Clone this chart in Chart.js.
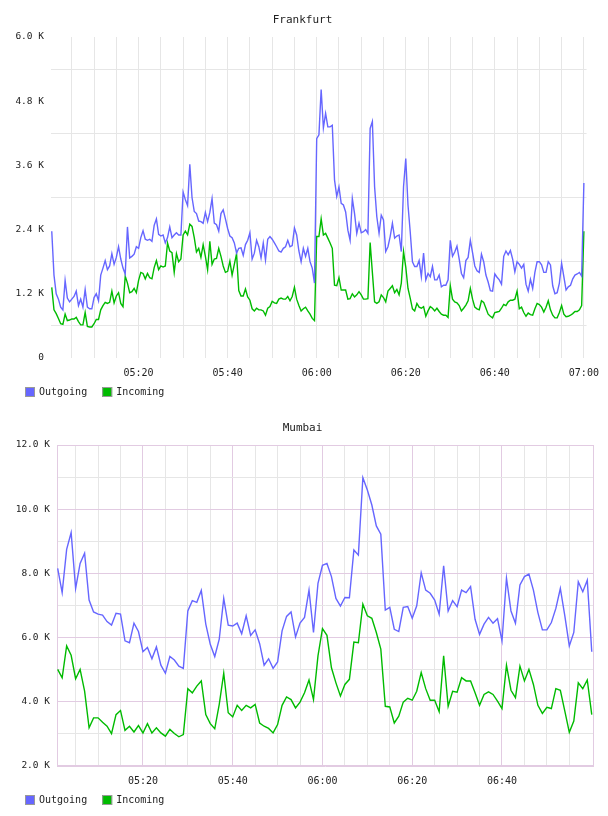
<!DOCTYPE html>
<html>
<head>
<meta charset="utf-8">
<script src="https://cdn.jsdelivr.net/npm/chart.js@4.4.1/dist/chart.umd.min.js"></script>
<style>
  html, body { margin: 0; padding: 0; background: #fff; }
  .wrap { position: relative; width: 608px; height: 816px; }
  canvas { position: absolute; left: 0; }
</style>
</head>
<body>
<div class="wrap">
  <canvas id="frankfurtChart" width="608" height="408" style="top:0"></canvas>
  <canvas id="mumbaiChart" width="608" height="408" style="top:408px"></canvas>
</div>
<script>
// time axis: minutes after 05:00
const xTickLabels = ['05:20', '05:40', '06:00', '06:20', '06:40', '07:00'];

// Frankfurt, one sample every 30 s starting 05:00:30 (values in K)
const frankfurtStart = 0.5;
const frankfurtStep = 0.5;
const frankfurtYLabels = ['0', '1.2 K', '2.4 K', '3.6 K', '4.8 K', '6.0 K'];
const frankfurtOut = [
  2.37, 1.55, 1.2, 1.1, 0.95, 0.9, 1.45, 1.12, 1.05, 1.1,
  1.15, 1.25, 0.98, 1.1, 0.95, 1.28, 0.95, 0.92, 0.92, 1.13,
  1.2, 1.07, 1.55, 1.68, 1.82, 1.65, 1.72, 1.95, 1.75, 1.88,
  2.08, 1.85, 1.68, 1.57, 2.45, 1.87, 1.9, 1.94, 2.08, 2.05,
  2.25, 2.38, 2.22, 2.2, 2.22, 2.18, 2.48, 2.6, 2.31, 2.28,
  2.3, 2.15, 2.25, 2.45, 2.25, 2.3, 2.34, 2.3, 2.3, 3.1,
  2.96, 2.85, 3.62, 3.0, 2.74, 2.7, 2.56, 2.55, 2.52, 2.72,
  2.55, 2.72, 2.98, 2.52, 2.49, 2.37, 2.7, 2.77, 2.6, 2.42,
  2.28, 2.25, 2.15, 1.96, 2.05, 2.06, 1.92, 2.12, 2.2, 2.34,
  1.85, 1.96, 2.2, 2.08, 1.87, 2.15, 1.83, 2.22, 2.27, 2.22,
  2.15, 2.08, 2.0, 1.98, 2.05, 2.08, 2.2, 2.08, 2.1, 2.43,
  2.3, 2.0, 1.8, 2.05, 1.9, 2.05, 1.8, 1.68, 1.4, 4.1,
  4.17, 5.02, 4.3, 4.57, 4.32, 4.32, 4.35, 3.33, 3.02, 3.2,
  2.89, 2.86, 2.73, 2.39, 2.2, 2.98, 2.7, 2.33, 2.52, 2.34,
  2.36, 2.4, 2.33, 4.29, 4.42, 3.2, 2.64, 2.33, 2.67, 2.58,
  1.99, 2.08, 2.27, 2.52, 2.24, 2.28, 2.3, 1.99, 3.2, 3.73,
  2.86, 2.36, 1.8, 1.71, 1.71, 1.82, 1.52, 1.96, 1.46, 1.58,
  1.52, 1.71, 1.46, 1.46, 1.55, 1.33, 1.36, 1.36, 1.46, 2.2,
  1.9, 1.98, 2.09, 1.85, 1.58, 1.5, 1.82, 1.88, 2.2, 1.97,
  1.72, 1.63, 1.6, 1.94, 1.8, 1.55, 1.42, 1.26, 1.25, 1.57,
  1.51, 1.46, 1.38, 1.9, 2.0, 1.93, 2.01, 1.85, 1.61, 1.8,
  1.75, 1.68, 1.75, 1.38, 1.25, 1.47, 1.3, 1.6, 1.8, 1.8,
  1.74, 1.6, 1.6, 1.8, 1.74, 1.35, 1.2, 1.22, 1.4, 1.77,
  1.52, 1.27, 1.33, 1.36, 1.48, 1.55, 1.57, 1.6, 1.53, 3.27
];
const frankfurtIn = [
  1.32, 0.9, 0.83, 0.74, 0.64, 0.63, 0.82, 0.7, 0.71, 0.73,
  0.73, 0.76, 0.68, 0.62, 0.62, 0.85, 0.59, 0.58, 0.58, 0.64,
  0.72, 0.72, 0.9, 0.98, 1.04, 1.02, 1.04, 1.25, 1.03, 1.16,
  1.22, 1.02, 0.96, 1.53, 1.4, 1.22, 1.24, 1.3, 1.22, 1.45,
  1.6, 1.58, 1.48, 1.58, 1.5, 1.48, 1.69, 1.82, 1.65, 1.72,
  1.7, 1.72, 2.15, 2.0, 1.97, 1.6, 1.95, 1.8, 1.85, 2.3,
  2.37, 2.3, 2.5, 2.46, 2.25, 1.98, 2.05, 1.88, 2.12, 1.9,
  1.65, 2.18, 1.75, 1.85, 1.86, 2.05, 1.9, 1.72, 1.6, 1.62,
  1.81, 1.55, 1.75, 1.95, 1.26, 1.16, 1.16, 1.29, 1.14, 1.08,
  0.92, 0.88, 0.93, 0.9, 0.9, 0.88, 0.8, 0.93, 0.96, 1.06,
  1.03, 1.02, 1.1, 1.12, 1.1, 1.1, 1.15, 1.07, 1.15, 1.32,
  1.1, 0.98, 0.88, 0.92, 0.95, 0.88, 0.82, 0.74, 0.7, 2.27,
  2.27, 2.6, 2.3, 2.33, 2.24, 2.15, 2.05, 1.36, 1.35, 1.5,
  1.27, 1.27, 1.27, 1.1, 1.11, 1.2, 1.14, 1.18, 1.24, 1.18,
  1.1, 1.1, 1.11, 2.16, 1.6, 1.05, 1.02, 1.05, 1.18, 1.13,
  1.05, 1.25, 1.3, 1.35, 1.22, 1.28, 1.18, 1.4, 1.99, 1.7,
  1.3, 1.12, 0.92, 0.88, 1.02, 0.95, 0.93, 0.96, 0.78, 0.88,
  0.96, 0.93, 0.88, 0.93, 0.87, 0.82, 0.8, 0.8, 0.76, 1.35,
  1.1, 1.05, 1.03, 0.98, 0.88, 0.93, 0.99, 1.07, 1.3, 1.1,
  0.95, 0.92, 0.9, 1.07, 1.04, 0.93, 0.82, 0.78, 0.75, 0.85,
  0.86, 0.87, 0.93, 1.0, 0.98, 1.05, 1.08, 1.08, 1.1, 1.25,
  0.92, 0.95, 0.85, 0.78, 0.84, 0.81, 0.8, 0.92, 1.02, 1.0,
  0.95, 0.86, 0.95, 1.07, 0.9, 0.8, 0.75, 0.75, 0.85, 0.98,
  0.82, 0.77, 0.78, 0.8, 0.83, 0.87, 0.87, 0.9, 0.98, 2.37
];

// Mumbai, one sample per minute starting 05:01 (values in K)
const mumbaiStart = 1;
const mumbaiStep = 1;
const mumbaiYLabels = ['2.0 K', '4.0 K', '6.0 K', '8.0 K', '10.0 K', '12.0 K'];
const mumbaiOut = [
  8.16, 7.4, 8.75, 9.27, 7.53, 8.31, 8.63, 7.17, 6.8, 6.73,
  6.7, 6.5, 6.39, 6.76, 6.73, 5.9, 5.84, 6.45, 6.19, 5.56,
  5.69, 5.34, 5.71, 5.14, 4.89, 5.41, 5.3, 5.11, 5.04, 6.83,
  7.15, 7.1, 7.47, 6.42, 5.79, 5.41, 5.95, 7.22, 6.39, 6.36,
  6.45, 6.12, 6.68, 6.07, 6.24, 5.81, 5.14, 5.34, 5.04, 5.24,
  6.21, 6.66, 6.8, 6.02, 6.45, 6.63, 7.48, 6.16, 7.69, 8.25,
  8.31, 7.9, 7.22, 6.98, 7.25, 7.24, 8.73, 8.57, 10.98, 10.6,
  10.13, 9.48, 9.22, 6.86, 6.94, 6.26, 6.19, 6.94, 6.97, 6.6,
  6.99, 8.02, 7.48, 7.38, 7.17, 6.73, 8.24, 6.83, 7.15, 6.96,
  7.48, 7.4, 7.59, 6.57, 6.1, 6.42, 6.63, 6.45, 6.59, 5.9,
  7.85, 6.83, 6.45, 7.64, 7.9, 7.98, 7.48, 6.78, 6.24, 6.24,
  6.47, 6.91, 7.53, 6.68, 5.74, 6.16, 7.74, 7.43, 7.79, 5.56
];
const mumbaiIn = [
  5.01, 4.75, 5.74, 5.45, 4.72, 5.01, 4.33, 3.19, 3.5, 3.5,
  3.36, 3.24, 3.01, 3.6, 3.73, 3.11, 3.24, 3.06, 3.26, 3.03,
  3.32, 3.03, 3.19, 3.03, 2.93, 3.14, 3.01, 2.91, 2.98, 4.41,
  4.28, 4.49, 4.65, 3.6, 3.32, 3.16, 3.92, 4.89, 3.66, 3.53,
  3.89, 3.73, 3.89, 3.81, 3.92, 3.34, 3.24, 3.17, 3.03, 3.29,
  3.89, 4.15, 4.07, 3.81, 3.99, 4.28, 4.68, 4.07, 5.43, 6.28,
  6.07, 5.06, 4.59, 4.18, 4.54, 4.7, 5.86, 5.84, 7.04, 6.68,
  6.6, 6.16, 5.64, 3.86, 3.84, 3.34, 3.55, 3.99, 4.11, 4.05,
  4.33, 4.91, 4.41, 4.05, 4.05, 3.69, 5.43, 3.86, 4.33, 4.3,
  4.75, 4.65, 4.65, 4.28, 3.89, 4.23, 4.31, 4.23, 4.02, 3.79,
  5.14, 4.36, 4.13, 5.11, 4.65, 5.01, 4.54, 3.89, 3.64, 3.83,
  3.79, 4.41, 4.36, 3.71, 3.05, 3.4, 4.59, 4.41, 4.68, 3.6
];

const monoFont = '"DejaVu Sans Mono", "Liberation Mono", monospace';
const outColor = '#6666ff';
const inColor = '#00bb00';
const textColor = '#222';
const lightGrid = '#e6e6e6';
const purpleGrid = '#e2cbe2';

// small boxed legend under the plot
const boxLegend = {
    id: 'boxLegend',
    afterDraw(chart) {
        const ctx = chart.ctx;
        const y = chart.chartArea.bottom + 34;
        let x = chart.options.layout.padding.left + 14;
        ctx.save();
        ctx.font = '10px ' + monoFont;
        ctx.textBaseline = 'middle';
        chart.data.datasets.forEach(ds => {
            ctx.fillStyle = ds.borderColor;
            ctx.fillRect(x, y - 5, 10, 10);
            ctx.strokeStyle = '#999';
            ctx.lineWidth = 1;
            ctx.strokeRect(x + 0.5, y - 4.5, 9, 9);
            ctx.fillStyle = textColor;
            ctx.fillText(ds.label, x + 14, y);
            x += 14 + ctx.measureText(ds.label).width + 15;
        });
        ctx.restore();
    }
};

// frame around the plot area (Mumbai only)
const plotFrame = {
    id: 'plotFrame',
    beforeDatasetsDraw(chart, args, opts) {
        if (!opts.color) return;
        const a = chart.chartArea;
        const ctx = chart.ctx;
        ctx.save();
        ctx.strokeStyle = opts.color;
        ctx.lineWidth = 1;
        ctx.strokeRect(a.left + 0.5, a.top + 0.5, a.right - a.left - 1, a.bottom - a.top - 1);
        ctx.restore();
    }
};

function toPoints(values, start, step) {
    return values.map((v, i) => ({ x: start + i * step, y: v }));
}

function buildChart(id, cfg) {
    return new Chart(document.getElementById(id), {
        type: 'line',
        data: {
            datasets: [{
                label: 'Outgoing',
                data: toPoints(cfg.out, cfg.start, cfg.step),
                borderColor: outColor,
                backgroundColor: outColor,
                borderWidth: 1.4,
                pointRadius: 0,
                tension: 0,
                fill: false
            }, {
                label: 'Incoming',
                data: toPoints(cfg.inc, cfg.start, cfg.step),
                borderColor: inColor,
                backgroundColor: inColor,
                borderWidth: 1.4,
                pointRadius: 0,
                tension: 0,
                fill: false
            }]
        },
        options: {
            responsive: false,
            animation: false,
            layout: { padding: { left: 11, right: 14, top: 0, bottom: 25 } },
            plugins: {
                legend: { display: false },
                tooltip: { enabled: false },
                plotFrame: { color: cfg.frame },
                title: {
                    display: true,
                    text: cfg.title,
                    color: textColor,
                    font: { family: monoFont, size: 11, weight: 'normal' },
                    padding: { top: 14, bottom: 9.8 }
                }
            },
            scales: {
                x: {
                    type: 'linear',
                    min: cfg.xMin,
                    max: cfg.xMax,
                    afterFit: s => { s.height = 25; },
                    afterBuildTicks: s => { s.ticks = cfg.xTicks.map(v => ({ value: v })); },
                    ticks: {
                        autoSkip: false,
                        maxRotation: 0,
                        padding: 9,
                        color: textColor,
                        font: { family: monoFont, size: 10 },
                        callback: v => (v % 20 === 0 && v / 20 <= cfg.xLabelCount) ? xTickLabels[v / 20 - 1] : ''
                    },
                    grid: {
                        drawTicks: false,
                        color: c => cfg.xGrid(c.tick ? c.tick.value : 0)
                    },
                    border: { display: false }
                },
                y: {
                    min: cfg.yMin,
                    max: cfg.yMax,
                    afterFit: s => { s.width = cfg.yWidth; },
                    afterBuildTicks: s => { s.ticks = cfg.yTicks.map(v => ({ value: v })); },
                    ticks: {
                        autoSkip: false,
                        padding: 7,
                        color: textColor,
                        font: { family: monoFont, size: 9.5 },
                        callback: (v, i) => i % 2 === 0 ? cfg.yLabels[i / 2] : ''
                    },
                    grid: {
                        drawTicks: false,
                        color: c => cfg.yGrid(c.index)
                    },
                    border: { display: false }
                }
            }
        },
        plugins: [boxLegend, plotFrame]
    });
}

const fiveMinTicks = Array.from({ length: 24 }, (_, i) => (i + 1) * 5);

buildChart('frankfurtChart', {
    title: 'Frankfurt',
    out: frankfurtOut,
    inc: frankfurtIn,
    start: frankfurtStart,
    step: frankfurtStep,
    xMin: 0.33,
    xMax: 120.6,
    xTicks: fiveMinTicks,
    xLabelCount: 6,
    xGrid: () => lightGrid,
    yMin: 0,
    yMax: 6,
    yTicks: Array.from({ length: 11 }, (_, i) => i * 0.6),
    yLabels: frankfurtYLabels,
    yGrid: i => i % 2 === 1 ? lightGrid : 'rgba(0,0,0,0)',
    yWidth: 40,
    frame: null
});

buildChart('mumbaiChart', {
    title: 'Mumbai',
    out: mumbaiOut,
    inc: mumbaiIn,
    start: mumbaiStart,
    step: mumbaiStep,
    xMin: 0.85,
    xMax: 120.5,
    xTicks: fiveMinTicks.slice(0, 23),
    xLabelCount: 5,
    xGrid: v => v % 20 === 0 ? purpleGrid : lightGrid,
    yMin: 2,
    yMax: 12,
    yTicks: Array.from({ length: 11 }, (_, i) => 2 + i),
    yLabels: mumbaiYLabels,
    yGrid: i => i % 2 === 0 ? purpleGrid : lightGrid,
    yWidth: 46,
    frame: purpleGrid
});
</script>
</body>
</html>
